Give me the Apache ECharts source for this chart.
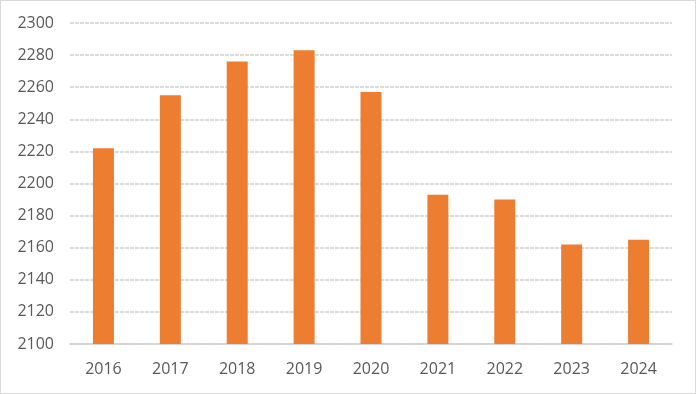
<!DOCTYPE html>
<html><head><meta charset="utf-8">
<script src="https://cdn.jsdelivr.net/npm/echarts@6/dist/echarts.min.js"></script>
<style>html,body{margin:0;padding:0;background:#fff}#c{width:696px;height:394px;box-sizing:border-box;border:1px solid #d9d9d9}</style>
</head><body><div id="c"></div>
<script>
var categories = ['2016','2017','2018','2019','2020','2021','2022','2023','2024'];
var values = [2222, 2255, 2276, 2283, 2257, 2193, 2190, 2162, 2165];
var chart = echarts.init(document.getElementById('c'));
chart.setOption({
  animation: false,
  grid: {left: 69, right: 23, top: 22, bottom: 49},
  xAxis: {
    type: 'category', data: categories,
    axisLine: {show: true, lineStyle: {color: '#d0d0d0', width: 1.5}},
    axisTick: {show: false},
    axisLabel: {color: '#595959', fontSize: 16, fontFamily: 'Open Sans', margin: 17}
  },
  yAxis: {
    type: 'value', min: 2100, max: 2300, interval: 20,
    axisLine: {show: false}, axisTick: {show: false},
    axisLabel: {color: '#595959', fontSize: 16, fontFamily: 'Open Sans', margin: 16,
      formatter: function (v) { return String(v); }},
    splitLine: {lineStyle: {color: '#d0d0d0', width: 1.5, type: [4, 1]}}
  },
  series: [{
    type: 'bar', data: values, barWidth: 21,
    itemStyle: {color: '#ed7d31'}
  }]
});
</script></body></html>
